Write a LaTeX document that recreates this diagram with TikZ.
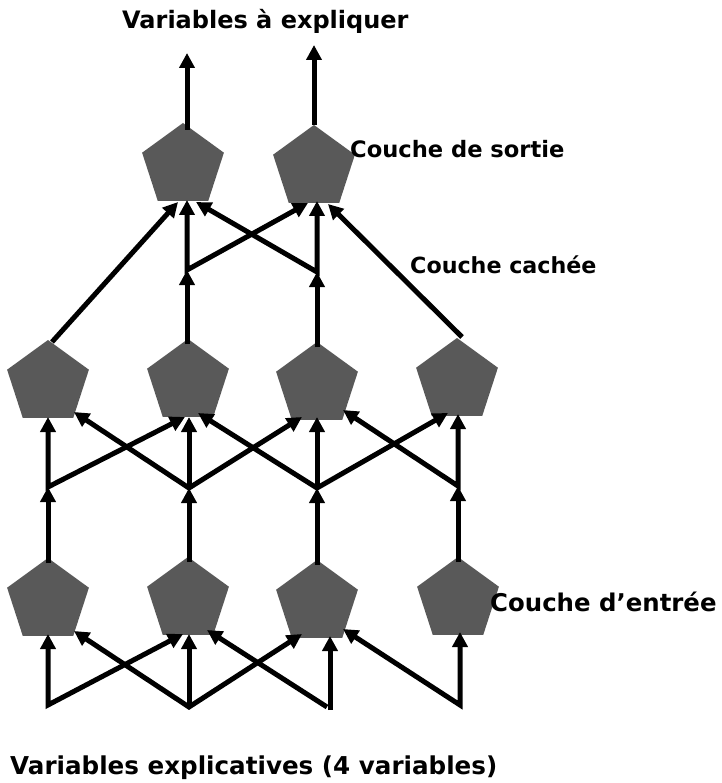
\documentclass[tikz,border=0pt]{standalone}
\usepackage{fontspec}
\setmainfont{DejaVu Sans}
\usetikzlibrary{shapes.geometric,arrows.meta,calc}
\definecolor{penta}{HTML}{595959}
\tikzset{
  neuron/.style={regular polygon, regular polygon sides=5, minimum size=86pt,
    inner sep=0pt, outer sep=0pt, fill=penta, draw=none},
  link/.style={line width=5pt, -{Triangle[length=15pt,width=15pt]}},
  duo/.style={line width=5pt, {Triangle[length=15pt,width=15pt]}-{Triangle[length=15pt,width=15pt]}},
  lbl/.style={anchor=base west, inner sep=0pt}
}
\begin{document}
\begin{tikzpicture}[x=1pt,y=-1pt]
\useasboundingbox (0,0) rectangle (721,783);

% neurons
\node[neuron] (in1) at (48,601) {};
\node[neuron] (in2) at (188,600) {};
\node[neuron] (in3) at (317,603) {};
\node[neuron] (in4) at (458,600) {};
\node[neuron] (h1) at (48,383) {};
\node[neuron] (h2) at (188,382) {};
\node[neuron] (h3) at (317,385) {};
\node[neuron] (h4) at (457,381) {};
\node[neuron] (o1) at (183,166) {};
\node[neuron] (o2) at (314,168) {};

% branching points
\coordinate (b1) at (48,705);
\coordinate (b2) at (189,707);
\coordinate (b3) at (327,707);
\coordinate (b3v) at (330,710);
\coordinate (b4) at (460,705);
\coordinate (j1) at (48,487);
\coordinate (j2) at (189,488);
\coordinate (j3) at (317,488);
\coordinate (j4) at (458,486);
\coordinate (k1) at (187,270);
\coordinate (k2) at (317,272);
\coordinate (t1) at (187,53);
\coordinate (t2) at (314,45);

% inputs -> input layer
\draw[duo] ($(in1)+(0,33)$) -- (b1) -- ($(in2)+(-5,34)$);
\draw[duo] ($(in1)+(26,30)$) -- (b2) -- ($(in3)+(-15,31)$);
\draw[link] (b2) -- ($(in2)+(1,34)$);
\draw[link] (b3) -- ($(in2)+(19,30)$);
\draw[link] (b3v) -- ($(in3)+(13,33)$);
\draw[duo] ($(in3)+(26,26)$) -- (b4) -- ($(in4)+(2,32)$);

% input layer -> hidden layer
\draw[link] ($(in1.corner 1)+(0,5)$) -- (j1);
\draw[link] ($(in2.corner 1)+(1,5)$) -- (j2);
\draw[link] ($(in3.corner 1)+(0,5)$) -- (j3);
\draw[link] ($(in4.corner 1)+(0,5)$) -- (j4);
\draw[duo] ($(h1)+(0,34)$) -- (j1) -- ($(h2)+(-3,35)$);
\draw[duo] ($(h1)+(26,29)$) -- (j2) -- ($(h3)+(-15,32)$);
\draw[link] (j2) -- ($(h2)+(1,35)$);
\draw[duo] ($(h2)+(10,31)$) -- (j3) -- ($(h4)+(-9,32)$);
\draw[link] (j3) -- ($(h3)+(0,32)$);
\draw[duo] ($(h3)+(26,25)$) -- (j4) -- ($(h4)+(1,33)$);

% hidden layer -> output layer
\draw[link] ($(h1.corner 1)+(4,2)$) -- ($(o1)+(-5,36)$);
\draw[link] ($(h2.corner 1)+(-1,5)$) -- (k1);
\draw[link] ($(h3.corner 1)+(0,5)$) -- (k2);
\draw[duo] ($(o1)+(4,34)$) -- (k1) -- ($(o2)+(-6,35)$);
\draw[duo] ($(o1)+(13,36)$) -- (k2) -- ($(o2)+(3,33)$);
\draw[link] ($(h4.corner 1)+(5,-1)$) -- ($(o2)+(14,36)$);

% outputs
\draw[link] ($(o1.corner 1)+(4,7)$) -- (t1);
\draw[link] (o2.corner 1) -- (t2);

% labels
\node[lbl, font=\bfseries\fontsize{24}{28}\selectfont] (ty) at (122,29) {Variables à expliquer};
\node[lbl, font=\bfseries\fontsize{22.6}{27}\selectfont] (ls) at (350,158) {Couche de sortie};
\node[lbl, font=\bfseries\fontsize{22.2}{27}\selectfont] (lc) at (410,273) {Couche cachée};
\node[lbl, font=\bfseries\fontsize{24.4}{29}\selectfont] (le) at (490,611) {Couche d’entrée};
\node[lbl, font=\bfseries\fontsize{24.6}{29}\selectfont] (tx) at (10,774) {Variables explicatives (4 variables)};
\end{tikzpicture}
\end{document}
